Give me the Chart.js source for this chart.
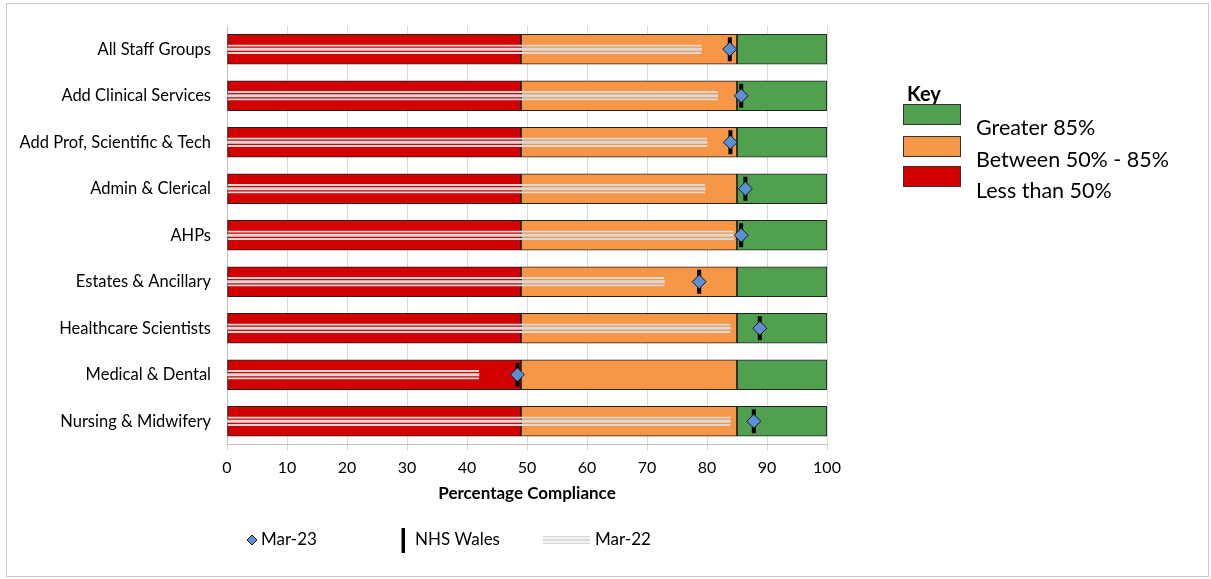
<!DOCTYPE html>
<html lang="en">
<head>
    <meta charset="UTF-8">
    <title>Percentage Compliance by Staff Group</title>
    <script src="https://cdn.jsdelivr.net/npm/chart.js"></script>
    <style>
        body {
            margin: 0;
            background-color: #ffffff;
        }
        #wrap {
            position: relative;
            width: 1211px;
            height: 579px;
        }
    </style>
</head>
<body>

<div id="wrap"><canvas id="chart"></canvas></div>

<script type="text/javascript">
    // values
    const staffGroups = [
        "All Staff Groups",
        "Add Clinical Services",
        "Add Prof, Scientific & Tech",
        "Admin & Clerical",
        "AHPs",
        "Estates & Ancillary",
        "Healthcare Scientists",
        "Medical & Dental",
        "Nursing & Midwifery"
    ];
    const mar23 = [83.8, 85.7, 83.9, 86.4, 85.7, 78.7, 88.8, 48.4, 87.8];
    const nhsWales = [83.8, 85.7, 83.9, 86.4, 85.7, 78.7, 88.8, 48.4, 87.8];
    const mar22 = [79.1, 81.8, 80.0, 79.7, 84.5, 72.9, 83.9, 42.0, 83.9];

    // RAG band limits
    const redLimit = 49;
    const amberLimit = 85;
    const axisMax = 100;
    const xTicks = [0, 10, 20, 30, 40, 50, 60, 70, 80, 90, 100];

    const keyLabels = ["Greater 85%", "Between 50% - 85%", "Less than 50%"];
    const seriesLabels = ["Mar-23", "NHS Wales", "Mar-22"];

    const RED = "#d40000";
    const AMBER = "#f79646";
    const GREEN = "#50a050";
    const STRIPE = "#d9d9d9";
    const DIAMOND = "#5b8fd8";
    const FONT = "Lato";

    const band = (from, to) => staffGroups.map(() => [from, to]);
    const asPoints = (vals) => vals.map((v, i) => ({ x: v, y: staffGroups[i] }));

    const chartArea = { left: 227, right: 827, top: 26, bottom: 444.5 };

    const keyPlugin = {
        id: "keyAndLegend",
        beforeDraw(chart) {
            const ctx = chart.ctx;
            ctx.save();
            ctx.strokeStyle = "#c8c8c8";
            ctx.lineWidth = 1;
            ctx.strokeRect(6.5, 3.5, 1202, 573);
            ctx.restore();
        },
        afterDraw(chart) {
            const ctx = chart.ctx;
            ctx.save();

            // Key (right side)
            ctx.fillStyle = "#000";
            ctx.font = "bold 20px " + FONT;
            ctx.textBaseline = "middle";
            ctx.textAlign = "left";
            ctx.fillText("Key", 907, 95);
            const sw = [[GREEN, 104], [AMBER, 136], [RED, 166]];
            sw.forEach(([c, y]) => {
                ctx.fillStyle = c;
                ctx.fillRect(903, y, 58, 21);
                ctx.strokeStyle = "#333";
                ctx.lineWidth = 1;
                ctx.strokeRect(903.5, y + 0.5, 57, 20);
            });
            ctx.fillStyle = "#000";
            ctx.font = "21.5px " + FONT;
            ctx.fillText(keyLabels[0], 976, 128);
            ctx.fillText(keyLabels[1], 976, 160);
            ctx.fillText(keyLabels[2], 976, 191);

            // series legend (bottom)
            const ly = 540;
            ctx.beginPath();
            ctx.moveTo(252, ly - 5);
            ctx.lineTo(257, ly);
            ctx.lineTo(252, ly + 5);
            ctx.lineTo(247, ly);
            ctx.closePath();
            ctx.fillStyle = DIAMOND;
            ctx.fill();
            ctx.strokeStyle = "#1a1a1a";
            ctx.lineWidth = 1;
            ctx.stroke();

            ctx.fillStyle = "#000";
            ctx.fillRect(401.5, 528, 3.5, 25);

            ctx.fillStyle = STRIPE;
            ctx.fillRect(543, ly - 4, 47, 1.5);
            ctx.fillRect(543, ly - 1.2, 47, 2.5);
            ctx.fillRect(543, ly + 2.5, 47, 1.5);

            ctx.fillStyle = "#000";
            ctx.font = "17px " + FONT;
            ctx.fillText(seriesLabels[0], 261, ly);
            ctx.fillText(seriesLabels[1], 415, ly);
            ctx.fillText(seriesLabels[2], 595, ly);
            ctx.restore();
        }
    };

    const ctx = document.getElementById("chart").getContext("2d");

    new Chart(ctx, {
        type: "bar",
        data: {
            labels: staffGroups,
            datasets: [
                {
                    type: "line",
                    label: seriesLabels[0],
                    data: asPoints(mar23),
                    indexAxis: "y",
                    showLine: false,
                    pointStyle: "rectRot",
                    pointRadius: 7,
                    pointBackgroundColor: DIAMOND,
                    pointBorderColor: "#1a1a1a",
                    pointBorderWidth: 1,
                    order: 1
                },
                {
                    type: "line",
                    label: seriesLabels[1],
                    data: asPoints(nhsWales),
                    indexAxis: "y",
                    showLine: false,
                    pointStyle: "line",
                    rotation: 90,
                    pointRadius: 12,
                    pointBorderColor: "#000",
                    pointBorderWidth: 4,
                    order: 2
                },
                {
                    label: seriesLabels[2],
                    data: mar22.map(v => [0, v]),
                    backgroundColor: STRIPE,
                    barThickness: 2.5,
                    borderWidth: 0,
                    grouped: false,
                    order: 3
                },
                {
                    label: seriesLabels[2] + " edge",
                    data: mar22.map(v => [0, v]),
                    backgroundColor: "rgba(0,0,0,0)",
                    borderColor: STRIPE,
                    borderWidth: { top: 1.5, bottom: 1.5, left: 0, right: 0 },
                    borderSkipped: false,
                    barThickness: 9,
                    grouped: false,
                    order: 4
                },
                {
                    label: keyLabels[0],
                    data: band(amberLimit, axisMax),
                    backgroundColor: GREEN,
                    borderColor: "#222",
                    borderWidth: 1.2,
                    borderSkipped: false,
                    barThickness: 30,
                    grouped: false,
                    order: 5
                },
                {
                    label: keyLabels[1],
                    data: band(redLimit, amberLimit),
                    backgroundColor: AMBER,
                    borderColor: "#222",
                    borderWidth: 1.2,
                    borderSkipped: false,
                    barThickness: 30,
                    grouped: false,
                    order: 6
                },
                {
                    label: keyLabels[2],
                    data: band(0, redLimit),
                    backgroundColor: RED,
                    borderColor: "#222",
                    borderWidth: 1.2,
                    borderSkipped: false,
                    barThickness: 30,
                    grouped: false,
                    order: 7
                }
            ]
        },
        options: {
            indexAxis: "y",
            responsive: true,
            maintainAspectRatio: false,
            animation: false,
            layout: {
                padding: { left: 0, right: 1211 - chartArea.right, top: chartArea.top, bottom: 0 }
            },
            plugins: {
                legend: { display: false },
                tooltip: { enabled: false }
            },
            scales: {
                x: {
                    type: "linear",
                    min: 0,
                    max: axisMax,
                    afterBuildTicks: (scale) => {
                        scale.ticks = xTicks.map(v => ({ value: v }));
                    },
                    afterFit: (scale) => {
                        scale.height = 579 - chartArea.bottom;
                    },
                    grid: {
                        color: "#d9d9d9",
                        lineWidth: 1,
                        tickLength: 6
                    },
                    border: { color: "#bfbfbf" },
                    ticks: {
                        color: "#000",
                        padding: 8,
                        font: { family: FONT, size: 16 }
                    },
                    title: {
                        display: true,
                        text: "Percentage Compliance",
                        color: "#000",
                        font: { family: FONT, size: 17, weight: "bold" },
                        padding: { top: 0, bottom: 75 }
                    }
                },
                y: {
                    type: "category",
                    afterFit: (scale) => {
                        scale.width = chartArea.left;
                    },
                    grid: { display: false, drawTicks: false },
                    border: { display: true, color: "#bfbfbf" },
                    ticks: {
                        color: "#000",
                        padding: 16,
                        font: { family: FONT, size: 16.5 }
                    }
                }
            }
        },
        plugins: [keyPlugin]
    });
</script>

</body>
</html>
